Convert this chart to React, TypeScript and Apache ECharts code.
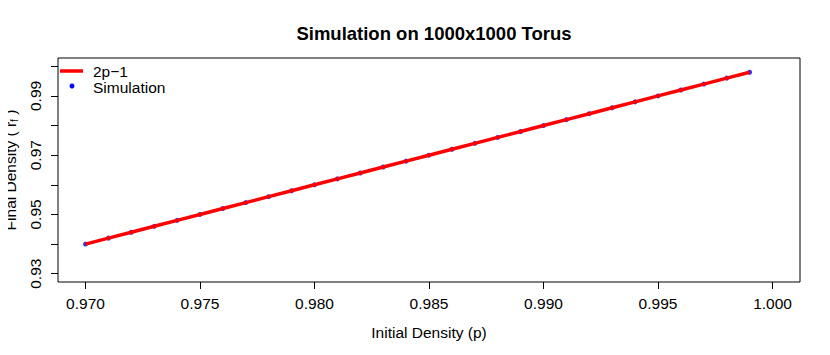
import React, { useEffect, useRef } from "react";
import * as echarts from "echarts";

const pValues = [
  0.970, 0.971, 0.972, 0.973, 0.974, 0.975, 0.976, 0.977, 0.978, 0.979,
  0.980, 0.981, 0.982, 0.983, 0.984, 0.985, 0.986, 0.987, 0.988, 0.989,
  0.990, 0.991, 0.992, 0.993, 0.994, 0.995, 0.996, 0.997, 0.998, 0.999,
];
const simulationValues = [
  0.940, 0.942, 0.944, 0.946, 0.948, 0.950, 0.952, 0.954, 0.956, 0.958,
  0.960, 0.962, 0.964, 0.966, 0.968, 0.970, 0.972, 0.974, 0.976, 0.978,
  0.980, 0.982, 0.984, 0.986, 0.988, 0.990, 0.992, 0.994, 0.996, 0.998,
];
const theoryValues = [
  0.940, 0.942, 0.944, 0.946, 0.948, 0.950, 0.952, 0.954, 0.956, 0.958,
  0.960, 0.962, 0.964, 0.966, 0.968, 0.970, 0.972, 0.974, 0.976, 0.978,
  0.980, 0.982, 0.984, 0.986, 0.988, 0.990, 0.992, 0.994, 0.996, 0.998,
];
const xTickValues = [0.97, 0.975, 0.98, 0.985, 0.99, 0.995, 1.0];
const yTickValues = [0.93, 0.94, 0.95, 0.96, 0.97, 0.98, 0.99, 1.0];
const yLabelValues = [0.93, 0.95, 0.97, 0.99];

const FONT = "'Liberation Sans', Arial, Helvetica, sans-serif";
const FS = 15.5;

export default function App() {
  const ref = useRef<HTMLDivElement>(null);
  useEffect(() => {
    if (!ref.current) return;
    const chart = echarts.init(ref.current, null, { renderer: "svg" });
    chart.setOption({
      animation: false,
      backgroundColor: "#ffffff",
      textStyle: { fontFamily: FONT },
      title: {
        text: "Simulation on 1000x1000 Torus",
        left: 429,
        textAlign: "center",
        top: 19,
        textStyle: { fontFamily: FONT, fontSize: 18.5, fontWeight: "bold", color: "#000" },
      },
      grid: {
        left: 58,
        right: 30,
        top: 58,
        bottom: 73,
        show: true,
        borderColor: "#000",
        borderWidth: 1,
        backgroundColor: "transparent",
      },
      xAxis: {
        type: "value",
        min: 0.9688,
        max: 1.0012,
        name: "Initial Density (p)",
        nameLocation: "middle",
        nameGap: 42,
        nameTextStyle: { fontFamily: FONT, fontSize: FS, color: "#000" },
        axisLine: { show: false },
        splitLine: { show: false },
        axisTick: {
          show: true,
          inside: false,
          length: 7,
          customValues: xTickValues,
          lineStyle: { color: "#000", width: 1 },
        },
        axisLabel: {
          customValues: xTickValues,
          formatter: (v: number) => v.toFixed(3),
          fontFamily: FONT,
          fontSize: FS,
          color: "#000",
          margin: 13,
        },
      },
      yAxis: {
        type: "value",
        min: 0.9272,
        max: 1.0028,
        axisLine: { show: false },
        splitLine: { show: false },
        axisTick: {
          show: true,
          inside: false,
          length: 7,
          customValues: yTickValues,
          lineStyle: { color: "#000", width: 1 },
        },
        axisLabel: {
          customValues: yLabelValues,
          formatter: (v: number) => v.toFixed(2),
          rotate: 90,
          fontFamily: FONT,
          fontSize: FS,
          color: "#000",
          margin: 15,
        },
      },
      graphic: [
        {
          type: "text",
          x: 10,
          y: 170,
          rotation: Math.PI / 2,
          style: {
            text: "{a|Final Density ( r}{s|f}{a| )}",
            x: 0,
            y: 0,
            align: "center",
            verticalAlign: "middle",
            rich: {
              a: { fontFamily: FONT, fontSize: FS, lineHeight: 18, fill: "#000", color: "#000" },
              s: { fontFamily: FONT, fontSize: 10, lineHeight: 10, verticalAlign: "bottom", fill: "#000", color: "#000" },
            },
            fill: "#000",
          },
        },
        {
          type: "line",
          shape: { x1: 60, y1: 71, x2: 83, y2: 71 },
          style: { stroke: "#ff0000", lineWidth: 3.5 },
        },
        {
          type: "circle",
          shape: { cx: 72, cy: 86, r: 2.5 },
          style: { fill: "#0000ff" },
        },
        {
          type: "text",
          x: 93,
          y: 71,
          style: { text: "2p\u22121", font: `${FS}px ${FONT}`, fill: "#000", verticalAlign: "middle" },
        },
        {
          type: "text",
          x: 93,
          y: 87,
          style: { text: "Simulation", font: `${FS}px ${FONT}`, fill: "#000", verticalAlign: "middle" },
        },
      ],
      series: [
        {
          name: "Simulation",
          type: "scatter",
          data: pValues.map((p, i) => [p, simulationValues[i]]),
          symbol: "circle",
          symbolSize: 5,
          itemStyle: { color: "#0000ff" },
          z: 2,
        },
        {
          name: "2p\u22121",
          type: "line",
          data: pValues.map((p, i) => [p, theoryValues[i]]),
          showSymbol: false,
          symbol: "none",
          lineStyle: { color: "#ff0000", width: 3.5 },
          z: 3,
        },
      ],
    });
    return () => chart.dispose();
  }, []);
  return <div ref={ref} style={{ width: 830, height: 355, margin: -8 }} />;
}
